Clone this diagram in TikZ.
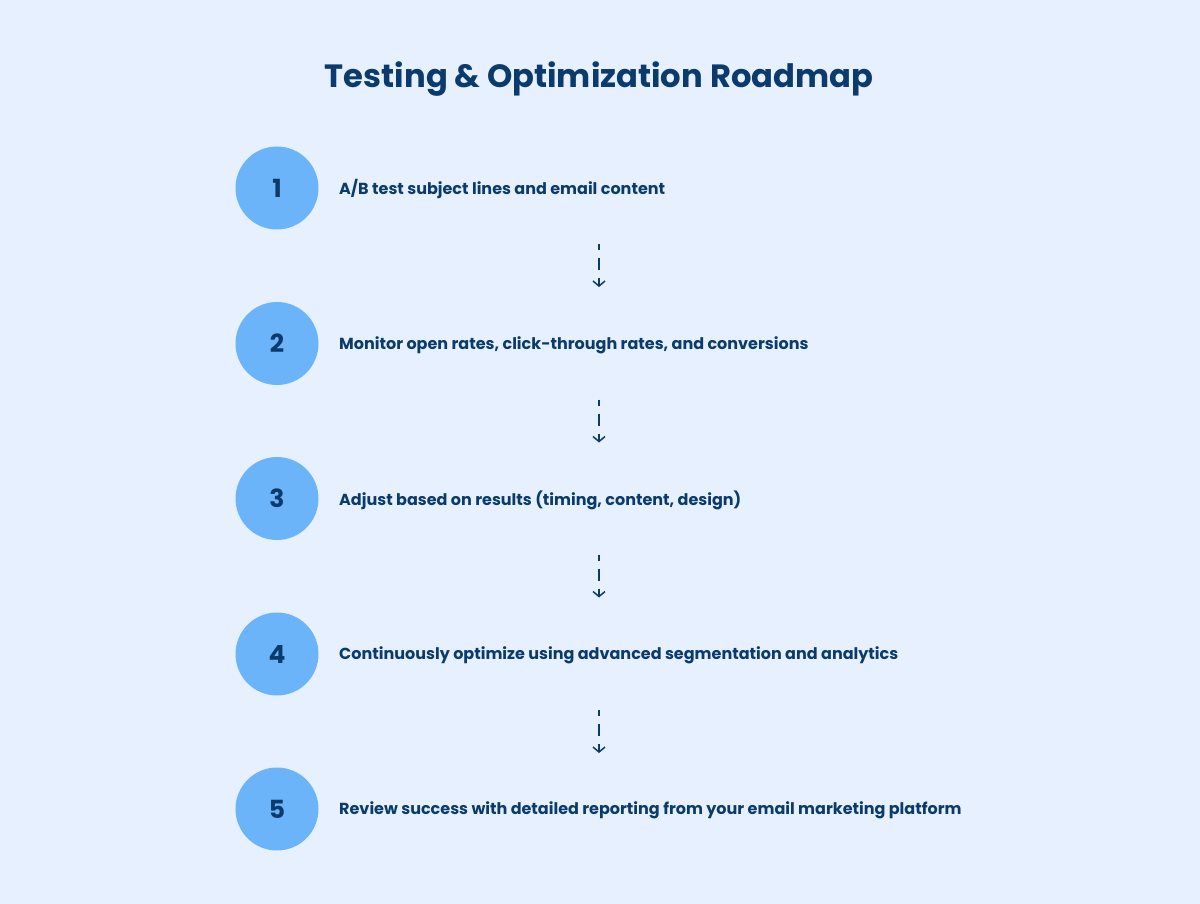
\documentclass[tikz,border=0pt]{standalone}
\usepackage{fontspec}
\setmainfont{Poppins}
\usetikzlibrary{arrows.meta}
\definecolor{bg}{HTML}{E6F0FE}
\definecolor{navy}{HTML}{0B3B6C}
\definecolor{circ}{HTML}{6CB4FA}
\tikzset{
  stepcircle/.style={circle, fill=circ, minimum size=83pt, inner sep=0pt, font=\fontsize{25}{28}\selectfont\bfseries, text=navy},
  steptext/.style={anchor=west, inner sep=0pt, font=\fontsize{16}{20}\selectfont\bfseries, text=navy},
  flow/.style={draw=navy, line width=1.5pt, dash pattern=on 12pt off 8pt, dash phase=6pt, -{Straight Barb[length=5pt,width=12pt,line width=1.5pt]}}
}
\begin{document}
\begin{tikzpicture}[x=1pt,y=-1pt]
\fill[bg] (0,0) rectangle (1200,904);
\useasboundingbox (0,0) rectangle (1200,904);
\node[font=\fontsize{32.2}{38}\selectfont\bfseries, text=navy] (title) at (599,79) {Testing \& Optimization Roadmap};
\foreach \i/\y/\t in {1/188/{A/B test subject lines and email content},
  2/343.5/{Monitor open rates, click-through rates, and conversions},
  3/498.5/{Adjust based on results (timing, content, design)},
  4/654/{Continuously optimize using advanced segmentation and analytics},
  5/809/{Review success with detailed reporting from your email marketing platform}}{
  \node[stepcircle] (c\i) at (277,\y) {\i};
  \node[steptext] (t\i) at (339,\y+1.5) {\t};
}
\foreach \i/\y in {1/244,2/399.5,3/554.5,4/710}{
  \coordinate (a\i) at (599,\y);
  \coordinate (b\i) at (599,\y+43);
  \draw[flow] (a\i) -- (b\i);
}
\end{tikzpicture}
\end{document}
